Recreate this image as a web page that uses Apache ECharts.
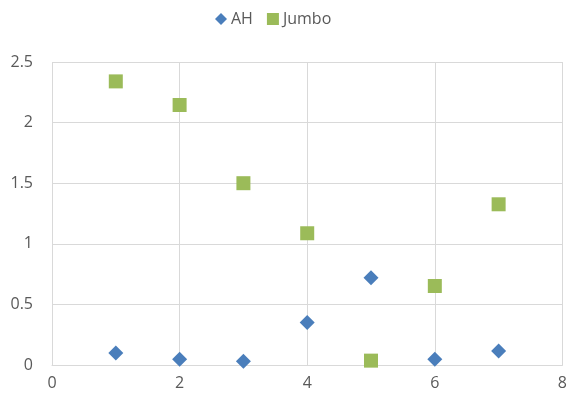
<!DOCTYPE html>
<html>
<head>
<meta charset="utf-8">
<script src="https://cdn.jsdelivr.net/npm/echarts@6/dist/echarts.min.js"></script>
<style>
  html, body { margin: 0; padding: 0; background: #fff; }
  #chart { width: 570px; height: 406px; }
</style>
</head>
<body>
<div id="chart"></div>
<script>
// Store sample index and measured values per store
const xValues = [1, 2, 3, 4, 5, 6, 7];
const ahValues = [0.10, 0.047, 0.03, 0.35, 0.72, 0.047, 0.115];
const jumboValues = [2.34, 2.145, 1.50, 1.087, 0.036, 0.652, 1.326];
const seriesNames = ['AH', 'Jumbo'];

const pairs = (xs, ys) => xs.map((x, i) => [x, ys[i]]);
const textColor = '#595959';
const gridColor = '#d9d9d9';
const fontFamily = '"Open Sans", "Noto Sans", sans-serif';

const chart = echarts.init(document.getElementById('chart'), null, { renderer: 'canvas' });
chart.setOption({
  animation: false,
  legend: {
    top: 6,
    left: 210,
    itemGap: 14,
    itemWidth: 12,
    itemHeight: 12,
    textStyle: { color: textColor, fontSize: 16, fontFamily, padding: [0, 0, 0, -1] },
    data: [
      { name: seriesNames[0], icon: 'diamond' },
      { name: seriesNames[1], icon: 'rect' }
    ]
  },
  grid: { left: 52, right: 7, top: 62, bottom: 41, containLabel: false },
  xAxis: {
    type: 'value',
    min: 0, max: 8, interval: 2,
    axisLine: { show: true, lineStyle: { color: gridColor } },
    axisTick: { show: false },
    axisLabel: { color: textColor, fontSize: 16, fontFamily, margin: 10 },
    splitLine: { show: true, lineStyle: { color: gridColor } }
  },
  yAxis: {
    type: 'value',
    min: 0, max: 2.5, interval: 0.5,
    axisLine: { show: false },
    axisTick: { show: false },
    axisLabel: { color: textColor, fontSize: 16, fontFamily, margin: 19 },
    splitLine: { show: true, lineStyle: { color: gridColor } }
  },
  series: [
    {
      name: seriesNames[0],
      type: 'scatter',
      symbol: 'diamond',
      symbolSize: [15, 15],
      itemStyle: { color: '#4a7ebb', opacity: 1 },
      data: pairs(xValues, ahValues)
    },
    {
      name: seriesNames[1],
      type: 'scatter',
      symbol: 'rect',
      symbolSize: [14, 14],
      itemStyle: { color: '#9bbb59', opacity: 1 },
      data: pairs(xValues, jumboValues)
    }
  ]
});
</script>
</body>
</html>
